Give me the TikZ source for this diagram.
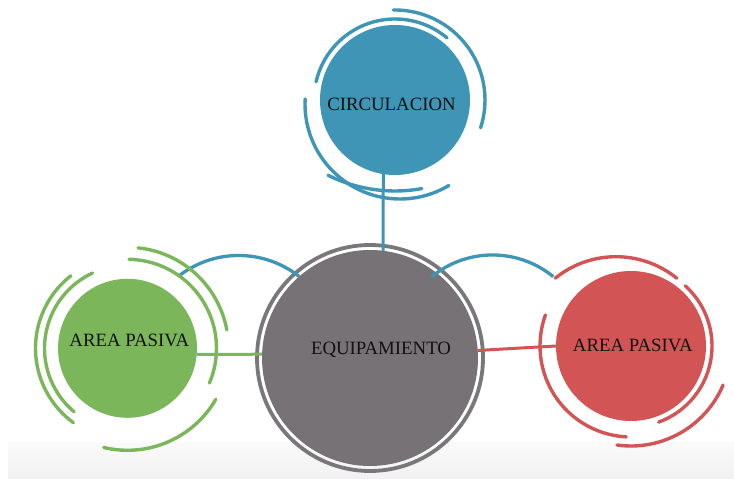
\documentclass[tikz,border=0pt]{standalone}
\usepackage{fontspec}
\setmainfont{Liberation Serif}
\usetikzlibrary{calc}
\definecolor{cblue}{HTML}{3E95B5}
\definecolor{cgreen}{HTML}{7BB65A}
\definecolor{cred}{HTML}{D25455}
\definecolor{cgrayfill}{HTML}{767276}
\definecolor{cring}{HTML}{7A777A}
\definecolor{ctext}{HTML}{111111}
\definecolor{cbandA}{HTML}{FAFAFA}
\definecolor{cbandB}{HTML}{F1F1F1}
\begin{document}
\begin{tikzpicture}[x=1pt,y=1pt,
  disc/.style={circle, inner sep=0pt, outer sep=0pt, minimum size=#1},
  arcline/.style={line width=3.4pt, line cap=round},
  link/.style={line width=3pt},
  lbl/.style={font=\fontsize{18.8}{22}\selectfont, text=ctext, inner sep=0pt, anchor=base}]
\useasboundingbox (0,0) rectangle (734,479);
\shade[top color=cbandA, bottom color=cbandB] (8,0) rectangle (734,36);

% circles
\node[disc=216pt, fill=cgrayfill] (equip) at (370,121) {};
\node[disc=150pt, fill=cblue] (circ) at (395,379) {};
\node[disc=139pt, fill=cgreen] (green) at (127.5,130.7) {};
\node[disc=150pt, fill=cred] (red) at (631,133) {};
\draw[cring, line width=3.8pt] (equip.center) circle[radius=113];

% straight connectors
\draw[link, cblue] (circ.261) -- (equip.83);
\draw[link, cgreen] (green.-5) -- (equip.178);
\draw[link, cred] (equip.4) -- (red.180);

% blue arc connectors
\draw[link, cblue, line width=3.3pt] (equip.131.4) arc[start angle=51.7, end angle=128.3, radius=97.6];
\coordinate (bR) at (431.7,202.3);
\draw[link, cblue, line width=3.3pt] (bR) arc[start angle=129.3, end angle=50.7, radius=96];

% blue arcs
\draw[arcline, cblue] ([shift={(91:90)}]circ.center) arc[start angle=91, end angle=-18, radius=90];
\draw[arcline, cblue] ([shift={(50:81)}]circ.center) arc[start angle=50, end angle=167, radius=81];
\coordinate (bc1) at (400,375);
\draw[arcline, cblue] ([shift={(177:95)}]bc1) arc[start angle=177, end angle=301, radius=95];
\coordinate (bc2) at (395,438);
\draw[arcline, cblue] ([shift={(243.5:150)}]bc2) arc[start angle=243.5, end angle=280.3, radius=150];

% green arcs
\draw[arcline, cgreen] ([shift={(84:101)}]green.center) arc[start angle=84, end angle=10.5, radius=101];
\draw[arcline, cgreen] ([shift={(89:89)}]green.center) arc[start angle=89, end angle=-23, radius=89];
\draw[arcline, cgreen] ([shift={(128:92)}]green.center) arc[start angle=128, end angle=234, radius=92];
\draw[arcline, cgreen] ([shift={(115:83)}]green.center) arc[start angle=115, end angle=230, radius=83];
\draw[arcline, cgreen] ([shift={(-103.5:102)}]green.center) arc[start angle=-103.5, end angle=-30, radius=102];

% red arcs
\coordinate (rc1) at (616,125.8);
\draw[arcline, cred] ([shift={(129:96.5)}]rc1) arc[start angle=129, end angle=51, radius=96.5];
\draw[arcline, cred] ([shift={(48:81)}]red.center) arc[start angle=48, end angle=-70, radius=81];
\draw[arcline, cred] ([shift={(160:91)}]red.center) arc[start angle=160, end angle=267, radius=91];
\draw[arcline, cred] ([shift={(-98:100)}]red.center) arc[start angle=-98, end angle=-23, radius=100];

% labels
\node[lbl] (tequip) at (381,124) {EQUIPAMIENTO};
\node[lbl] (tcirc) at (391.5,368.3) {CIRCULACION};
\node[lbl] (tgreen) at (129.3,132.3) {AREA PASIVA};
\node[lbl] (tred) at (632.8,127.3) {AREA PASIVA};
\end{tikzpicture}
\end{document}
